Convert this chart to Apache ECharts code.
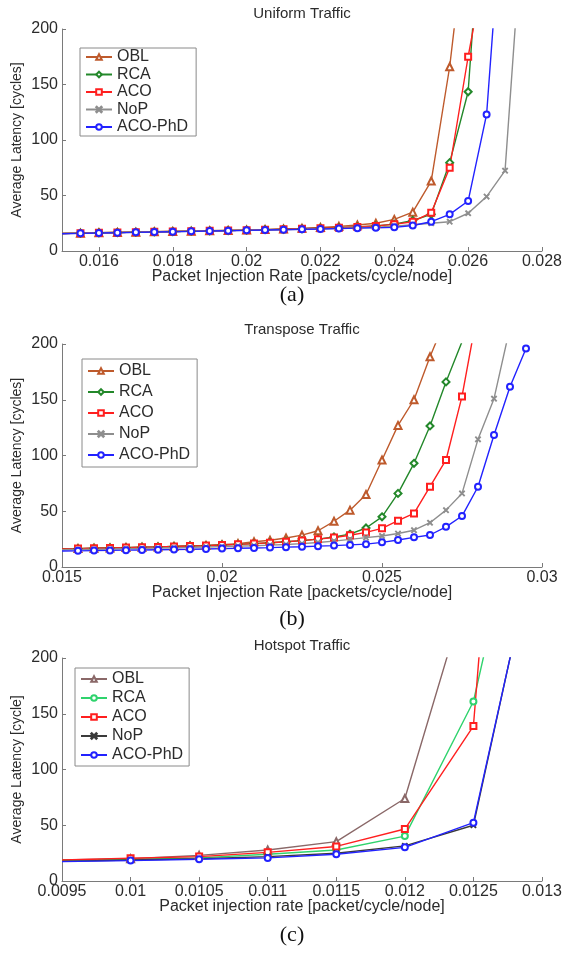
<!DOCTYPE html>
<html>
<head>
<meta charset="utf-8">
<title>Average latency vs. packet injection rate</title>
<script src="https://cdn.jsdelivr.net/npm/echarts@6/dist/echarts.min.js"></script>
<style>
  html, body { margin: 0; padding: 0; background: #ffffff; }
  #wrap { position: relative; width: 565px; height: 953px; overflow: hidden; }
  .panel { position: absolute; left: 0; width: 565px; }
</style>
</head>
<body>
<div id="wrap">
  <div id="panelA" class="panel" style="top:0px;height:312px"></div>
  <div id="panelB" class="panel" style="top:312px;height:322px"></div>
  <div id="panelC" class="panel" style="top:634px;height:319px"></div>
</div>
<script>
// ---------- (a) Uniform traffic ----------
var uniformRate = [0.015, 0.0155, 0.016, 0.0165, 0.017, 0.0175, 0.018, 0.0185, 0.019, 0.0195,
  0.02, 0.0205, 0.021, 0.0215, 0.022, 0.0225, 0.023, 0.0235, 0.024, 0.0245,
  0.025, 0.0255, 0.026, 0.0265, 0.027, 0.0275];
var uniformOBL = [15.8, 16.1, 16.4, 16.7, 17.0, 17.3, 17.6, 17.9, 18.2, 18.5, 18.9, 19.3, 19.8, 20.4, 21.2, 22.2, 23.4, 25.0, 28.5, 35, 63, 166, 308];
var uniformRCA = [15.8, 16.1, 16.4, 16.7, 17.0, 17.3, 17.6, 17.9, 18.2, 18.5, 18.8, 19.2, 19.6, 20.0, 20.5, 21.0, 21.7, 22.6, 24.2, 27.5, 33, 79.6, 143.5, 378];
var uniformACO = [15.8, 16.1, 16.4, 16.7, 17.0, 17.3, 17.6, 17.9, 18.2, 18.5, 18.8, 19.2, 19.6, 20.0, 20.5, 21.0, 21.7, 22.6, 24.0, 26.4, 34.5, 75, 175, 265];
var uniformNoP = [15.7, 16.0, 16.3, 16.6, 16.9, 17.2, 17.5, 17.8, 18.1, 18.4, 18.7, 19.0, 19.3, 19.6, 20.0, 20.4, 20.9, 21.5, 22.4, 23.6, 25.0, 26.4, 34, 49, 72.4, 308];
var uniformPhD = [15.6, 15.9, 16.2, 16.5, 16.8, 17.1, 17.4, 17.7, 18.0, 18.3, 18.6, 18.9, 19.2, 19.5, 19.8, 20.2, 20.6, 21.0, 21.3, 23, 26.4, 33, 45, 123, 349];
var uniformTicks = [0.016, 0.018, 0.02, 0.022, 0.024, 0.026, 0.028];

// ---------- (b) Transpose traffic ----------
var transposeRate = [0.015, 0.0155, 0.016, 0.0165, 0.017, 0.0175, 0.018, 0.0185, 0.019, 0.0195,
  0.02, 0.0205, 0.021, 0.0215, 0.022, 0.0225, 0.023, 0.0235, 0.024, 0.0245,
  0.025, 0.0255, 0.026, 0.0265, 0.027, 0.0275, 0.028, 0.0285, 0.029, 0.0295];
var transposeOBL = [16.3, 16.5, 16.8, 17.1, 17.4, 17.7, 18.0, 18.4, 18.8, 19.3, 19.9, 21.0, 22.6, 24.0, 26.0, 28.6, 32.5, 41, 51, 65, 96, 127, 150, 188.6, 223];
var transposeRCA = [16.3, 16.5, 16.8, 17.1, 17.4, 17.7, 18.0, 18.4, 18.8, 19.2, 19.7, 20.3, 21.0, 21.8, 22.7, 23.7, 25.0, 27.0, 29.5, 35, 45, 66, 93, 126.5, 166, 202];
var transposeACO = [16.3, 16.5, 16.8, 17.1, 17.4, 17.7, 18.0, 18.4, 18.8, 19.2, 19.7, 20.3, 21.0, 21.8, 22.7, 23.7, 25.0, 26.5, 28.5, 31, 34.7, 41.5, 48, 72, 96, 153, 231];
var transposeNoP = [15.5, 15.7, 15.9, 16.1, 16.4, 16.7, 17.0, 17.3, 17.6, 17.9, 18.3, 18.7, 19.1, 19.6, 20.2, 21.0, 22.0, 23.2, 24.8, 26.3, 27.8, 30, 33, 39.7, 51, 66, 114.5, 151, 215];
var transposePhD = [14.4, 14.5, 14.7, 14.9, 15.1, 15.3, 15.5, 15.7, 15.9, 16.2, 16.5, 16.8, 17.1, 17.4, 17.8, 18.2, 18.7, 19.2, 19.8, 20.5, 22.1, 24.2, 26.6, 28.7, 36, 45.7, 72, 118.4, 161.7, 196];
var transposeTicks = [0.015, 0.02, 0.025, 0.03];

// ---------- (c) Hotspot traffic ----------
var hotspotRate = [0.0095, 0.01, 0.0105, 0.011, 0.0115, 0.012, 0.0125, 0.013];
var hotspotOBL = [18.9, 20.0, 23.0, 27.8, 35.3, 74, 280];
var hotspotRCA = [18.6, 19.5, 20.7, 24.0, 27.8, 40.3, 161, 432];
var hotspotACO = [18.9, 20.4, 21.9, 25.7, 31.0, 46.6, 139, 900];
var hotspotNoP = [17.6, 18.9, 20.0, 21.9, 24.9, 31.5, 50, 331];
var hotspotPhD = [17.4, 18.3, 19.5, 20.7, 24.0, 30.2, 52.3, 329];
var hotspotTicks = [0.0095, 0.01, 0.0105, 0.011, 0.0115, 0.012, 0.0125, 0.013];

var latencyTicks = [0, 50, 100, 150, 200];
var seriesNames = ['OBL', 'RCA', 'ACO', 'NoP', 'ACO-PhD'];

// Small "x" marker used for the NoP curves
var crossMark = 'path://M1,0L5,4L9,0L10,1L6,5L10,9L9,10L5,6L1,10L0,9L4,5L0,1Z';

var SANS = 'Liberation Sans, Arial, Helvetica, sans-serif';
var SERIF = 'Liberation Serif, Times New Roman, serif';
var AXIS_GREY = '#7a7a7a';
var TEXT = '#2b2b2b';

// Pair rates with latencies; the first sample sits on the left axis and carries no marker
function pairs(xs, ys) {
  return ys.map(function (v, i) {
    var item = { value: [xs[i], v] };
    if (i === 0) { item.symbol = 'none'; }
    return item;
  });
}

function lineSeries(name, xs, ys, color, symbol, symbolSize) {
  return {
    name: name,
    type: 'line',
    data: pairs(xs, ys),
    symbol: symbol,
    symbolSize: symbolSize,
    clip: true,
    lineStyle: { color: color, width: 1.4 },
    itemStyle: { color: color, borderColor: color, borderWidth: 1.2 },
    emphasis: { disabled: true }
  };
}

function panelOption(p) {
  var gridLeft = 62, gridWidth = 480;
  var cx = gridLeft + gridWidth / 2;
  return {
    animation: false,
    backgroundColor: '#ffffff',
    grid: { left: gridLeft, top: p.gridTop, width: gridWidth, height: p.gridHeight, containLabel: false },
    graphic: [
      {
        type: 'text', x: cx, y: p.titleY, silent: true,
        style: { text: p.title, fill: TEXT, fontFamily: SANS, fontSize: 15, align: 'center', verticalAlign: 'middle' }
      },
      {
        type: 'text', x: 292, y: p.tagY, silent: true,
        style: { text: p.tag, fill: '#111111', fontFamily: SERIF, fontSize: 22, align: 'center', verticalAlign: 'middle' }
      }
    ],
    legend: {
      orient: 'vertical',
      left: p.legendLeft,
      top: p.legendTop,
      data: seriesNames,
      itemWidth: 26,
      itemHeight: 7,
      itemGap: p.legendGap,
      padding: p.legendPadding,
      borderColor: '#8a8a8a',
      borderWidth: 1,
      backgroundColor: '#ffffff',
      selectedMode: false,
      textStyle: { fontFamily: SANS, fontSize: 16, color: TEXT }
    },
    xAxis: {
      type: 'value',
      min: p.xMin,
      max: p.xMax,
      name: p.xName,
      nameLocation: 'middle',
      nameGap: 18,
      nameMoveOverlap: false,
      nameTextStyle: { fontFamily: SANS, fontSize: 16, color: TEXT, verticalAlign: 'top' },
      axisLine: { show: true, lineStyle: { color: AXIS_GREY, width: 1 } },
      axisTick: { show: true, inside: true, length: 4, customValues: p.xTicks, lineStyle: { color: AXIS_GREY } },
      axisLabel: { customValues: p.xTicks, margin: 3, fontFamily: SANS, fontSize: 16, color: TEXT },
      splitLine: { show: false }
    },
    yAxis: {
      type: 'value',
      min: 0,
      max: 200,
      name: p.yName,
      nameLocation: 'middle',
      nameGap: 38,
      nameMoveOverlap: false,
      nameTextStyle: { fontFamily: SANS, fontSize: 14, color: TEXT },
      axisLine: { show: true, lineStyle: { color: AXIS_GREY, width: 1 } },
      axisTick: { show: true, inside: true, length: 4, customValues: latencyTicks, lineStyle: { color: AXIS_GREY } },
      axisLabel: { customValues: latencyTicks, margin: 4, fontFamily: SANS, fontSize: 16, color: TEXT },
      splitLine: { show: false }
    },
    series: p.series
  };
}

var optA = panelOption({
  gridTop: 29, gridHeight: 222, titleY: 14, tagY: 295,
  title: 'Uniform Traffic', tag: '(a)',
  xMin: 0.015, xMax: 0.028, xTicks: uniformTicks,
  xName: 'Packet Injection Rate [packets/cycle/node]',
  yName: 'Average Latency [cycles]',
  legendLeft: 80, legendTop: 48, legendGap: 1.5, legendPadding: [1, 8, 1, 5],
  series: [
    lineSeries('OBL', uniformRate, uniformOBL, '#be5a2c', 'emptyTriangle', 7),
    lineSeries('RCA', uniformRate, uniformRCA, '#23882a', 'emptyDiamond', 7),
    lineSeries('ACO', uniformRate, uniformACO, '#ff1f1f', 'emptyRect', 6),
    lineSeries('NoP', uniformRate, uniformNoP, '#8e8e8e', crossMark, 5),
    lineSeries('ACO-PhD', uniformRate, uniformPhD, '#2222ff', 'emptyCircle', 6)
  ]
});

var optB = panelOption({
  gridTop: 32, gridHeight: 223, titleY: 18, tagY: 307,
  title: 'Transpose Traffic', tag: '(b)',
  xMin: 0.015, xMax: 0.03, xTicks: transposeTicks,
  xName: 'Packet Injection Rate [packets/cycle/node]',
  yName: 'Average Latency [cycles]',
  legendLeft: 82, legendTop: 47, legendGap: 5, legendPadding: [4, 7, 4, 5],
  series: [
    lineSeries('OBL', transposeRate, transposeOBL, '#be5a2c', 'emptyTriangle', 7),
    lineSeries('RCA', transposeRate, transposeRCA, '#23882a', 'emptyDiamond', 7),
    lineSeries('ACO', transposeRate, transposeACO, '#ff1f1f', 'emptyRect', 6),
    lineSeries('NoP', transposeRate, transposeNoP, '#8e8e8e', crossMark, 5),
    lineSeries('ACO-PhD', transposeRate, transposePhD, '#2222ff', 'emptyCircle', 6)
  ]
});

var optC = panelOption({
  gridTop: 24, gridHeight: 223, titleY: 12, tagY: 301,
  title: 'Hotspot Traffic', tag: '(c)',
  xMin: 0.0095, xMax: 0.013, xTicks: hotspotTicks,
  xName: 'Packet injection rate [packet/cycle/node]',
  yName: 'Average Latency [cycle]',
  legendLeft: 75, legendTop: 34, legendGap: 3, legendPadding: [3, 6, 3, 5],
  series: [
    lineSeries('OBL', hotspotRate, hotspotOBL, '#8a6868', 'emptyTriangle', 7),
    lineSeries('RCA', hotspotRate, hotspotRCA, '#2fd36d', 'emptyCircle', 6),
    lineSeries('ACO', hotspotRate, hotspotACO, '#ff1f1f', 'emptyRect', 6),
    lineSeries('NoP', hotspotRate, hotspotNoP, '#3a3a3a', crossMark, 5),
    lineSeries('ACO-PhD', hotspotRate, hotspotPhD, '#2222ff', 'emptyCircle', 6)
  ]
});

echarts.init(document.getElementById('panelA'), null, { renderer: 'canvas' }).setOption(optA);
echarts.init(document.getElementById('panelB'), null, { renderer: 'canvas' }).setOption(optB);
echarts.init(document.getElementById('panelC'), null, { renderer: 'canvas' }).setOption(optC);
</script>
</body>
</html>
